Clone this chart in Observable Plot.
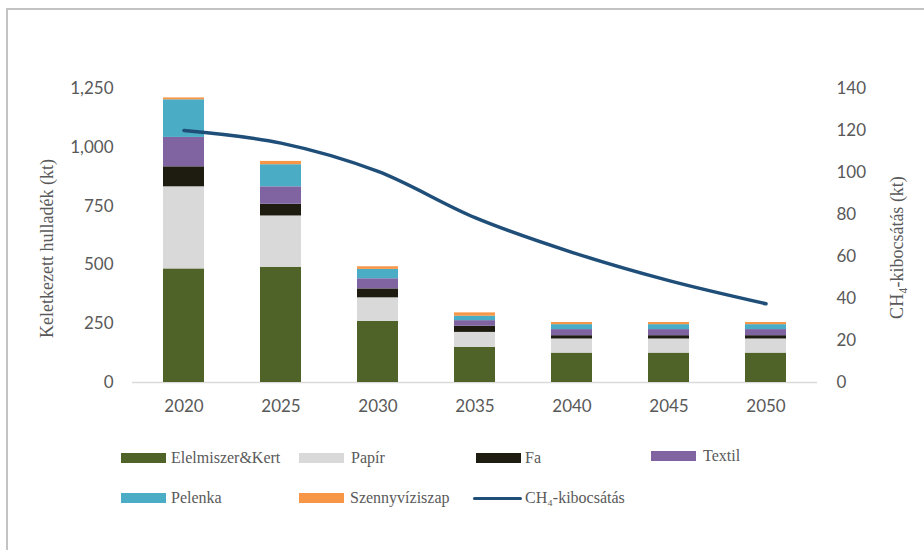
<!DOCTYPE html>
<html><head><meta charset="utf-8">
<script src="https://cdn.jsdelivr.net/npm/d3@7"></script>
<script src="https://cdn.jsdelivr.net/npm/@observablehq/plot@0.6"></script>
<style>
body{margin:0;background:#fff;width:924px;height:550px;overflow:hidden;position:relative;font-family:"Liberation Serif",serif;}
#frame{position:absolute;left:6px;top:8px;width:960px;height:600px;border-left:2px solid #c3c3c3;border-top:2px solid #c3c3c3;}
#chart{position:absolute;left:0;top:0;}
.sw{position:absolute;height:10px;width:45px;}
.ln{position:absolute;height:3px;width:49px;border-radius:2px;}
.lb{position:absolute;font-size:16px;color:#595959;line-height:18px;white-space:nowrap;}
</style></head>
<body>
<div id="frame"></div>
<div id="chart"></div>
<div id="legend"></div>
<script>
// ---- data ----
const years = ["2020","2025","2030","2035","2040","2045","2050"];
const elelmiszerKert = [483, 490, 260, 149, 125, 125, 125];
const papir          = [349, 218, 100,  64,  60,  60,  60];
const fa             = [ 85,  50,  38,  26,  14,  14,  14];
const textil         = [125,  74,  43,  24,  26,  26,  26];
const pelenka        = [160,  94,  40,  19,  21,  21,  21];
const szennyviziszap = [  8,  14,  11,  14,   9,   9,   9];
const ch4Kibocsatas  = [120, 114, 100.5, 78.5, 62, 48.5, 37.5];
const leftTicks  = [0, 250, 500, 750, 1000, 1250];
const rightTicks = [0, 20, 40, 60, 80, 100, 120, 140];
const seriesNames = ["Elelmiszer&Kert","Papír","Fa","Textil","Pelenka","Szennyvíziszap"];
const seriesColors = ["#4f6228","#d9d9d9","#1e1b10","#8064a2","#4bacc6","#f79646"];
const lineName = "CH₄-kibocsátás";
const lineColor = "#1f4e79";
const leftTitle = "Keletkezett hulladék (kt)";
const rightTitle = "CH₄-kibocsátás (kt)";

const seriesValues = [elelmiszerKert, papir, fa, textil, pelenka, szennyviziszap];
const rows = seriesNames.flatMap((name, s) => years.map((year, i) => ({year, cat: name, v: seriesValues[s][i]})));
const leftMax = 1250, rightMax = 140, k = leftMax / rightMax;
const lineRows = years.map((year, i) => ({year, v: ch4Kibocsatas[i] * k}));

const chart = Plot.plot({
  width: 924, height: 430,
  marginTop: 88, marginBottom: 48, marginLeft: 132, marginRight: 107,
  x: {domain: years, paddingInner: 0.58, paddingOuter: 0.29, label: null},
  y: {domain: [0, leftMax], label: null},
  color: {domain: seriesNames, range: seriesColors},
  style: {fontFamily: "Lato, sans-serif", fontSize: "17px", color: "#595959", background: "transparent"},
  marks: [
    Plot.ruleY([0], {stroke: "#d9d9d9", strokeWidth: 1.5}),
    Plot.barY(rows, {x: "year", y: "v", fill: "cat"}),
    Plot.line(lineRows, {x: "year", y: "v", stroke: lineColor, strokeWidth: 3.5, curve: "catmull-rom"}),
    Plot.axisX({tickSize: 0, tickPadding: 17, fontSize: 17}),
    Plot.axisY(leftTicks, {anchor: "left", tickSize: 0, tickPadding: 19, tickFormat: d3.format(","), label: null}),
    Plot.axisY(rightTicks.map(v => v * k), {anchor: "right", tickSize: 0, tickPadding: 19, tickFormat: d => String(Math.round(d / k)), label: null}),
    Plot.text([leftTitle], {frameAnchor: "left", textAnchor: "middle", dx: -85, dy: 13, rotate: -90, text: d => d, fontFamily: "Liberation Serif, serif", fontSize: 18, fill: "#595959"}),
    Plot.text([rightTitle], {frameAnchor: "right", textAnchor: "middle", dx: 80, dy: 12, rotate: -90, text: d => d, fontFamily: "Liberation Serif, serif", fontSize: 18, fill: "#595959"})
  ]
});
document.getElementById("chart").appendChild(chart);

// ---- legend (layout) ----
const legendLayout = [
  {sx: 121, tx: 171, y: 458},
  {sx: 299, tx: 351, y: 458},
  {sx: 476, tx: 525, y: 458},
  {sx: 651, tx: 703, y: 456},
  {sx: 121, tx: 171, y: 498},
  {sx: 299, tx: 350, y: 498},
  {sx: 473, tx: 525, y: 498}
];
const legendItems = seriesNames.map((n, i) => ({name: n, color: seriesColors[i], kind: "sw"}))
  .concat([{name: lineName, color: lineColor, kind: "ln"}]);
const leg = document.getElementById("legend");
legendItems.forEach((it, i) => {
  const p = legendLayout[i];
  const s = document.createElement("div");
  s.className = it.kind;
  s.style.left = p.sx + "px";
  s.style.top = (p.y - (it.kind === "sw" ? 5 : 1.5)) + "px";
  s.style.background = it.color;
  leg.appendChild(s);
  const t = document.createElement("div");
  t.className = "lb";
  t.textContent = it.name;
  t.style.left = p.tx + "px";
  t.style.top = (p.y - 9) + "px";
  leg.appendChild(t);
});
</script>
</body></html>
